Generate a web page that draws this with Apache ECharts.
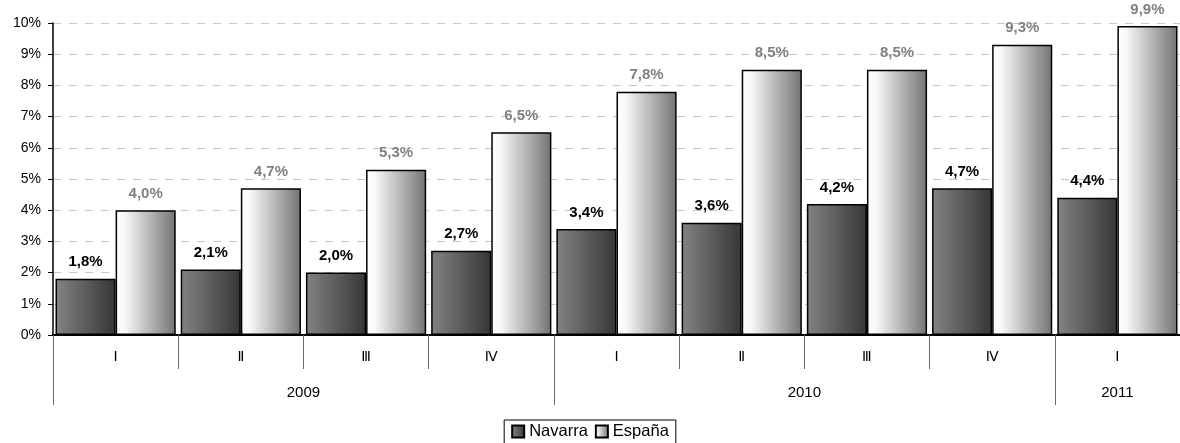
<!DOCTYPE html>
<html>
<head>
<meta charset="utf-8">
<script src="https://cdn.jsdelivr.net/npm/echarts@6/dist/echarts.min.js"></script>
<style>
html,body{margin:0;padding:0;background:#fff;}
#c{width:1180px;height:443px;}
</style>
</head>
<body>
<div id="c"></div>
<script>
var quarters = ['I', 'Ⅱ', 'Ⅲ', 'Ⅳ', 'I', 'Ⅱ', 'Ⅲ', 'Ⅳ', 'I'];
var years = ['2009', '2010', '2011'];
var yearSpans = [4, 4, 1];
var navarra = [1.8, 2.1, 2.0, 2.7, 3.4, 3.6, 4.2, 4.7, 4.4];
var espana = [4.0, 4.7, 5.3, 6.5, 7.8, 8.5, 8.5, 9.3, 9.9];
var yTicks = [0, 1, 2, 3, 4, 5, 6, 7, 8, 9, 10];

var bounds = [0], centers = [];
(function () {
  var acc = 0;
  for (var i = 0; i < yearSpans.length; i++) {
    centers.push(acc + yearSpans[i] / 2);
    acc += yearSpans[i];
    bounds.push(acc);
  }
})();

var FONT = 'Liberation Sans, Arial, sans-serif';
var fmt = function (v) { return v.toFixed(1).replace('.', ',') + '%'; };

var navGrad = new echarts.graphic.LinearGradient(0, 0, 1, 0, [
  { offset: 0, color: '#838383' },
  { offset: 1, color: '#363636' }
]);
var espGrad = new echarts.graphic.LinearGradient(0, 0, 1, 0, [
  { offset: 0, color: '#ffffff' },
  { offset: 0.15, color: '#f8f8f8' },
  { offset: 1, color: '#737373' }
]);

var chart = echarts.init(document.getElementById('c'));
chart.setOption({
  animation: false,
  textStyle: { fontFamily: FONT },
  grid: { left: 53, right: 0, top: 23, bottom: 108, containLabel: false },
  legend: {
    top: 420, left: 'center',
    borderColor: '#000', borderWidth: 1, borderRadius: 0,
    padding: [3, 7, 6, 7], itemGap: 7, itemWidth: 12, itemHeight: 12,
    icon: 'rect',
    textStyle: { fontSize: 16.5, color: '#000', fontFamily: FONT },
    data: ['Navarra', 'España']
  },
  xAxis: [
    {
      type: 'category', data: quarters, position: 'bottom',
      axisLine: { show: true, lineStyle: { color: '#000', width: 2 } },
      axisTick: { show: true, interval: 0, length: 34, lineStyle: { color: '#666', width: 1 } },
      axisLabel: { interval: 0, margin: 15, fontSize: 14, color: '#000', fontFamily: 'DejaVu Sans, Liberation Sans, sans-serif' },
      splitLine: { show: false }
    },
    {
      type: 'value', min: 0, max: bounds[bounds.length - 1], position: 'bottom',
      axisLine: { show: false },
      axisTick: { show: true, length: 70, customValues: bounds, lineStyle: { color: '#666', width: 1 } },
      axisLabel: {
        customValues: centers, margin: 50, fontSize: 15, color: '#000',
        formatter: function (v) { return years[centers.indexOf(v)] || ''; }
      },
      splitLine: { show: false }
    }
  ],
  yAxis: {
    type: 'value', min: yTicks[0], max: yTicks[yTicks.length - 1], interval: 1,
    axisLine: { show: true, lineStyle: { color: '#000', width: 1.5 } },
    axisTick: { show: true, length: 5, lineStyle: { color: '#000' } },
    axisLabel: { fontSize: 14, color: '#000', margin: 12, formatter: function (v) { return v + '%'; } },
    splitLine: { show: true, lineStyle: { color: '#c8c8c8', type: [8, 8], width: 1 } }
  },
  series: [
    {
      name: 'Navarra', type: 'bar', data: navarra, xAxisIndex: 0,
      barGap: '0%', barCategoryGap: '4%',
      itemStyle: { color: navGrad, borderColor: '#000', borderWidth: 1.5 },
      label: { show: true, position: 'top', distance: 9, fontSize: 15, fontWeight: 'bold', color: '#000', formatter: function (p) { return fmt(p.value); } }
    },
    {
      name: 'España', type: 'bar', data: espana, xAxisIndex: 0,
      itemStyle: { color: espGrad, borderColor: '#000', borderWidth: 1.5 },
      label: { show: true, position: 'top', distance: 9, fontSize: 15, fontWeight: 'bold', color: '#808080', formatter: function (p) { return fmt(p.value); } }
    }
  ]
});
</script>
</body>
</html>
